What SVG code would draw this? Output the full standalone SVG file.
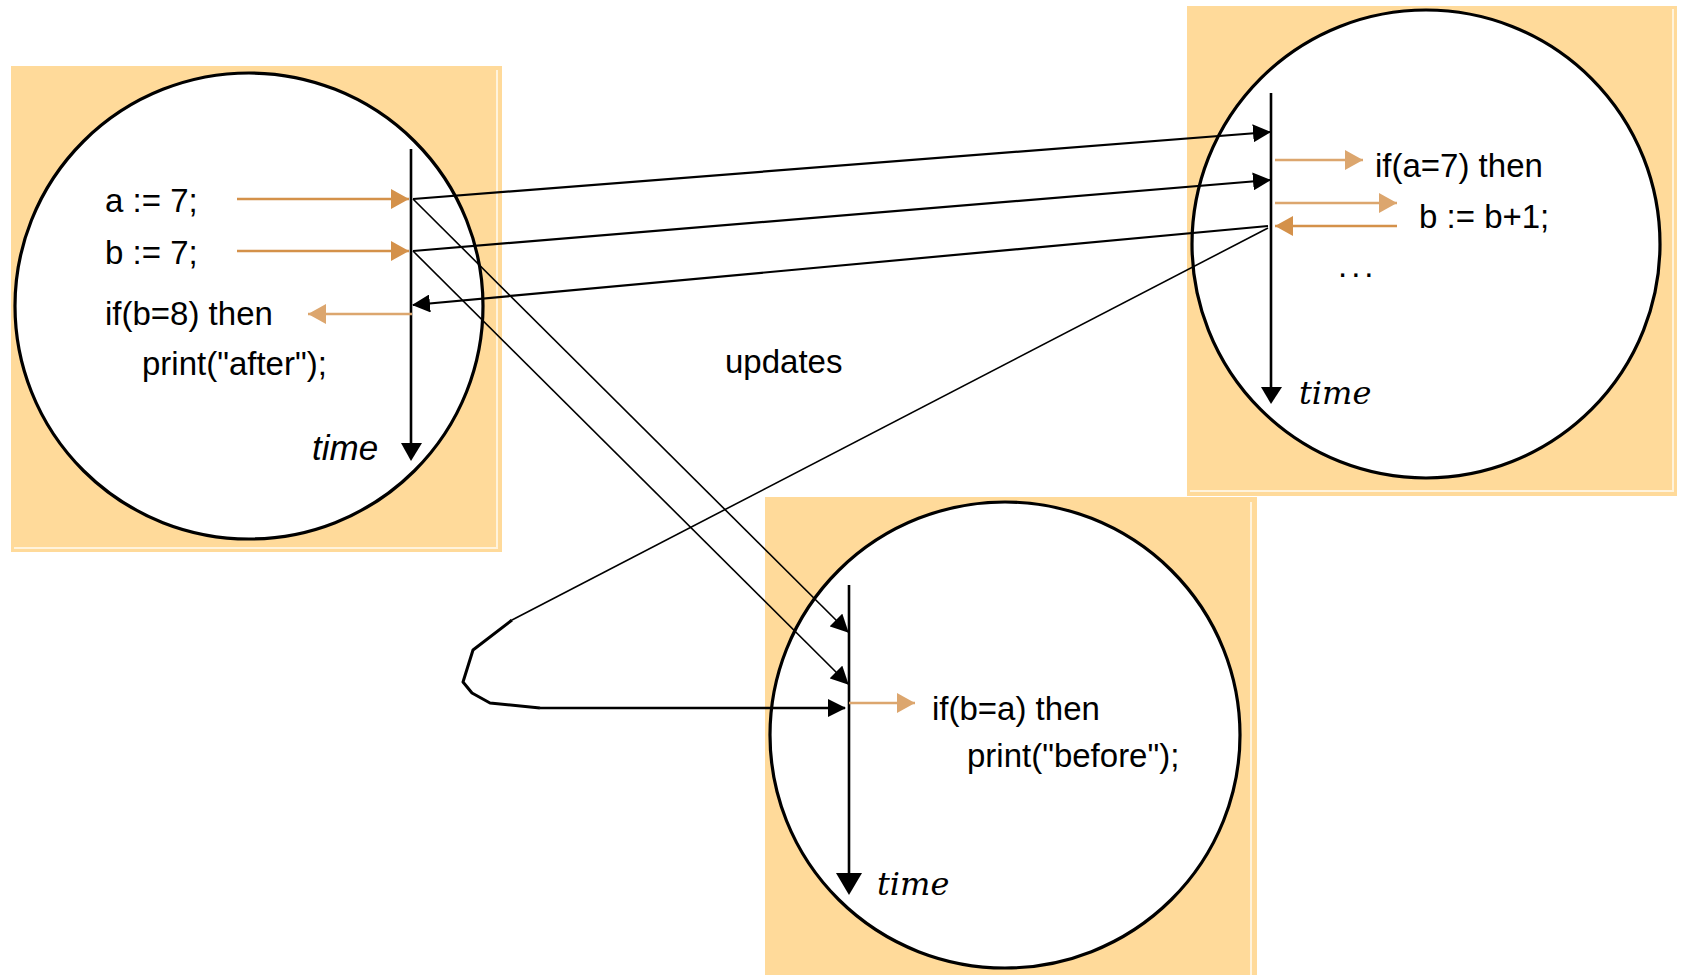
<svg xmlns="http://www.w3.org/2000/svg" width="1681" height="977" viewBox="0 0 1681 977">
<style>
.box{fill:#FFDA9A}
.edge{stroke:#FFF3DC;stroke-width:2;fill:none}
.circ{fill:#fff;stroke:#000;stroke-width:3.2}
.tl{stroke:#000;stroke-width:2.6;fill:none}
.code{font-family:"Liberation Sans",Arial,sans-serif;font-size:33px;fill:#000}
.tsans{font-family:"Liberation Sans",Arial,sans-serif;font-size:35px;font-style:italic;fill:#000}
.tserif{font-family:"DejaVu Serif","Liberation Serif",serif;font-size:32px;font-style:italic;fill:#000}
.od{stroke:#D4914A;stroke-width:2.6;fill:none}
.ol{stroke:#DCA66E;stroke-width:2.6;fill:none}
.con{stroke:#000;fill:none}
</style>
<defs>
<marker id="ahD" markerUnits="userSpaceOnUse" markerWidth="18" markerHeight="20" refX="18" refY="10" orient="auto"><path d="M0,0 L18,10 L0,20 z" fill="#D4914A"/></marker>
<marker id="ahL" markerUnits="userSpaceOnUse" markerWidth="18" markerHeight="20" refX="18" refY="10" orient="auto"><path d="M0,0 L18,10 L0,20 z" fill="#DCA66E"/></marker>
<marker id="ahB" markerUnits="userSpaceOnUse" markerWidth="18" markerHeight="18" refX="17" refY="9" orient="auto"><path d="M0,0 L18,9 L0,18 z" fill="#000"/></marker>
</defs>

<g id="process-left">
<rect class="box" x="11" y="66" width="491" height="486"/>
<path class="edge" d="M497,70 V548 H14"/>
<ellipse class="circ" cx="249" cy="306" rx="234" ry="233"/>
<line class="tl" x1="411" y1="149" x2="411" y2="446"/>
<polygon points="401,443 422,443 411,461" fill="#000"/>
<text class="tsans" x="312" y="460">time</text>
<text class="code" x="105" y="212">a := 7;</text>
<text class="code" x="105" y="264">b := 7;</text>
<text class="code" x="105" y="325">if(b=8) then</text>
<text class="code" x="142" y="375">print("after");</text>
<line class="od" x1="237" y1="199" x2="409" y2="199" marker-end="url(#ahD)"/>
<line class="od" x1="237" y1="251" x2="409" y2="251" marker-end="url(#ahD)"/>
<line class="ol" x1="412" y1="314" x2="308" y2="314" marker-end="url(#ahL)"/>
</g>

<g id="process-right">
<rect class="box" x="1187" y="6" width="490" height="490"/>
<path class="edge" d="M1673,9 V491 H1190"/>
<ellipse class="circ" cx="1426" cy="244" rx="234" ry="234"/>
<line class="tl" x1="1271" y1="93" x2="1271" y2="390"/>
<polygon points="1261,387 1282,387 1271,404" fill="#000"/>
<text class="tserif" x="1299" y="404">time</text>
<text class="code" x="1375" y="177">if(a=7) then</text>
<text class="code" x="1419" y="228">b := b+1;</text>
<text class="code" x="1338" y="277" letter-spacing="4">...</text>
<line class="ol" x1="1275" y1="160" x2="1363" y2="160" marker-end="url(#ahL)"/>
<line class="ol" x1="1275" y1="203" x2="1397" y2="203" marker-end="url(#ahL)"/>
<line class="od" x1="1397" y1="226" x2="1275" y2="226" marker-end="url(#ahD)"/>
</g>

<g id="process-bottom">
<rect class="box" x="765" y="497" width="492" height="478"/>
<path class="edge" d="M1251,502 V975"/>
<ellipse class="circ" cx="1005" cy="735" rx="235" ry="233"/>
<line class="tl" x1="849" y1="585" x2="849" y2="876"/>
<polygon points="836,873 862,873 849,895" fill="#000"/>
<text class="tserif" x="877" y="895">time</text>
<text class="code" x="932" y="720">if(b=a) then</text>
<text class="code" x="967" y="767">print("before");</text>
<line class="ol" x1="849" y1="703" x2="915" y2="703" marker-end="url(#ahL)"/>
</g>

<g id="connectors">
<line class="con" stroke-width="2.2" x1="413" y1="199" x2="1270" y2="132" marker-end="url(#ahB)"/>
<line class="con" stroke-width="2.2" x1="413" y1="251" x2="1270" y2="180" marker-end="url(#ahB)"/>
<line class="con" stroke-width="2.2" x1="1268" y1="226" x2="413" y2="305" marker-end="url(#ahB)"/>
<line class="con" stroke-width="1.6" x1="413" y1="199" x2="848" y2="632" marker-end="url(#ahB)"/>
<line class="con" stroke-width="1.6" x1="413" y1="251" x2="848" y2="684" marker-end="url(#ahB)"/>
<path class="con" stroke-width="1.6" d="M1268,228 L512,620"/>
<path class="con" stroke-width="3" stroke-linejoin="round" d="M512,620 L473,650 L463,682 L472,693 L490,703 L540,708"/>
<path class="con" stroke-width="2.4" d="M540,708 L845,708" marker-end="url(#ahB)"/>
<text class="code" x="725" y="373" font-size="32">updates</text>
</g>
</svg>
